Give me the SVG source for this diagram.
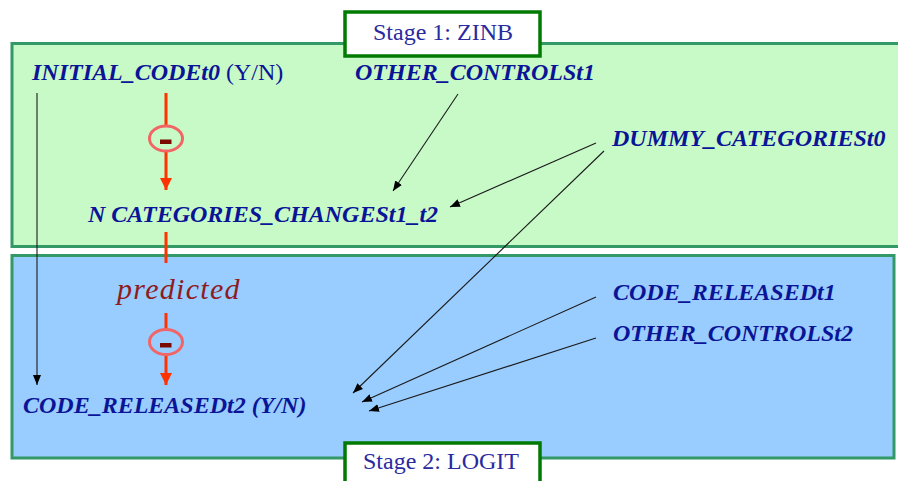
<svg xmlns="http://www.w3.org/2000/svg" width="898" height="481" viewBox="0 0 898 481">
  <style>
    .var { font-family: "Liberation Serif", "Times New Roman", serif; font-size: 24px; font-weight: bold; font-style: italic; fill: #0a1496; }
    .plain { font-family: "Liberation Serif", "Times New Roman", serif; font-size: 24px; fill: #0a1496; }
    .stage { font-family: "Liberation Serif", "Times New Roman", serif; font-size: 24px; fill: #2a2aa0; }
    .pred { font-family: "Liberation Serif", "Times New Roman", serif; font-size: 30px; font-style: italic; fill: #8e1c1c; letter-spacing: 1.3px; }
    .panel { stroke: #339966; stroke-width: 3; }
    .tag { fill: #ffffff; stroke: #007a00; stroke-width: 3.5; }
    .thin { stroke: #1a1a1a; stroke-width: 1.1; fill: none; }
    .red { stroke: #ff3300; stroke-width: 3; fill: none; }
    .sign { fill: none; stroke: #f26565; stroke-width: 3; }
  </style>
  <defs>
    <marker id="blk" viewBox="0 0 10 10" refX="10" refY="5" markerWidth="10" markerHeight="10" markerUnits="userSpaceOnUse" orient="auto">
      <path d="M0,1 L10,5 L0,9 Z" fill="#000"/>
    </marker>
    <marker id="redhead" viewBox="0 0 12 12" refX="12" refY="6" markerWidth="12" markerHeight="12" markerUnits="userSpaceOnUse" orient="auto">
      <path d="M0,0 L12,6 L0,12 Z" fill="#ff3300"/>
    </marker>
  </defs>

  <!-- stage panels -->
  <g id="stage1-panel">
    <rect class="panel" x="12" y="43.5" width="890" height="203" fill="#c8fac8"/>
  </g>
  <g id="stage2-panel">
    <rect class="panel" x="12" y="255.5" width="882" height="202.5" fill="#99ccff"/>
  </g>

  <!-- connectors -->
  <g id="connectors">
    <line class="thin" x1="37" y1="93" x2="37" y2="385" marker-end="url(#blk)"/>
    <line class="thin" x1="458" y1="94" x2="393" y2="191" marker-end="url(#blk)"/>
    <line class="thin" x1="596" y1="143" x2="450" y2="207" marker-end="url(#blk)"/>
    <line class="thin" x1="604" y1="151" x2="353" y2="393" marker-end="url(#blk)"/>
    <line class="thin" x1="596" y1="297" x2="362" y2="402" marker-end="url(#blk)"/>
    <line class="thin" x1="596" y1="338" x2="369" y2="411" marker-end="url(#blk)"/>

    <!-- negative effect into the count model -->
    <line class="red" x1="166" y1="93" x2="166" y2="125"/>
    <line class="red" x1="166" y1="151" x2="166" y2="190" marker-end="url(#redhead)"/>
    <!-- predicted count into the logit model -->
    <line class="red" x1="166" y1="232" x2="166" y2="263"/>
    <line class="red" x1="166" y1="313" x2="166" y2="329"/>
    <line class="red" x1="166" y1="355" x2="166" y2="385" marker-end="url(#redhead)"/>
  </g>

  <!-- minus signs -->
  <g id="minus1">
    <ellipse class="sign" cx="166" cy="138.5" rx="16.5" ry="12.5"/>
    <rect x="160" y="139.5" width="11.5" height="4.5" fill="#7a0a00"/>
  </g>
  <g id="minus2">
    <ellipse class="sign" cx="166" cy="342" rx="16.5" ry="12.5"/>
    <rect x="160" y="343" width="11.5" height="4.5" fill="#7a0a00"/>
  </g>

  <!-- stage tags -->
  <g id="stage1-tag">
    <rect class="tag" x="345" y="12" width="195" height="44"/>
    <text class="stage" x="373" y="40">Stage 1: ZINB</text>
  </g>
  <g id="stage2-tag">
    <rect class="tag" x="345" y="443" width="195" height="50"/>
    <text class="stage" x="363" y="469">Stage 2: LOGIT</text>
  </g>

  <!-- variables -->
  <g id="initial-code">
    <text x="32" y="80"><tspan class="var">INITIAL_CODEt0</tspan><tspan class="plain"> (Y/N)</tspan></text>
  </g>
  <g id="other-controls-t1">
    <text class="var" x="355" y="80">OTHER_CONTROLSt1</text>
  </g>
  <g id="dummy-categories">
    <text class="var" x="612" y="146">DUMMY_CATEGORIESt0</text>
  </g>
  <g id="n-categories-changes">
    <text class="var" x="88" y="222">N CATEGORIES_CHANGESt1_t2</text>
  </g>
  <g id="predicted">
    <text class="pred" x="117" y="299">predicted</text>
  </g>
  <g id="code-released-t1">
    <text class="var" x="613" y="300">CODE_RELEASEDt1</text>
  </g>
  <g id="other-controls-t2">
    <text class="var" x="613" y="341">OTHER_CONTROLSt2</text>
  </g>
  <g id="code-released-t2">
    <text class="var" x="23" y="413">CODE_RELEASEDt2 (Y/N)</text>
  </g>
</svg>
